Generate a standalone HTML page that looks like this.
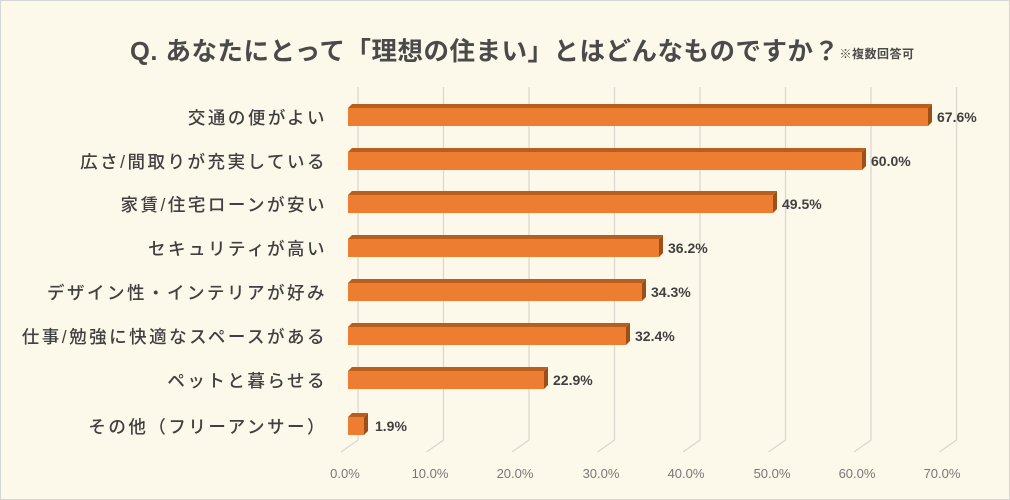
<!DOCTYPE html>
<html><head><meta charset="utf-8"><style>
body{margin:0;background:#fff}
svg{display:block}
text{font-family:"Liberation Sans","Noto Sans CJK JP",sans-serif}
</style></head><body>
<svg width="1010" height="500" viewBox="0 0 1010 500">
<rect x="0.5" y="0.5" width="1009" height="499" fill="#fdf9ea" stroke="#d6d6d6"/>
<text x="130" y="60" font-size="25.5" font-weight="bold" fill="#4a4a4a" letter-spacing="0.5">Q. あなたにとって「理想の住まい」とはどんなものですか？<tspan font-size="12" dy="-2" letter-spacing="0.5">※複数回答可</tspan></text>
<g stroke="#d9d7d0" stroke-width="1.3" fill="none">
<path d="M358 87V440L341 452"/><path d="M443.5 87V440L426.5 452"/><path d="M529 87V440L512 452"/><path d="M614.5 87V440L597.5 452"/><path d="M700 87V440L683 452"/><path d="M785.5 87V440L768.5 452"/><path d="M871 87V440L854 452"/><path d="M956.5 87V440L939.5 452"/>
</g>
<g font-size="13" fill="#777" text-anchor="middle">
<text x="345" y="478">0.0%</text><text x="430" y="478">10.0%</text><text x="515" y="478">20.0%</text><text x="601" y="478">30.0%</text><text x="686" y="478">40.0%</text><text x="772" y="478">50.0%</text><text x="857" y="478">60.0%</text><text x="942" y="478">70.0%</text>
</g>
<g font-size="17.5" fill="#404040" text-anchor="end" letter-spacing="2.5" font-weight="500">
<text x="327" y="124">交通の便がよい</text>
<text x="327" y="168">広さ/間取りが充実している</text>
<text x="327" y="211">家賃/住宅ローンが安い</text>
<text x="327" y="255">セキュリティが高い</text>
<text x="327" y="299">デザイン性・インテリアが好み</text>
<text x="327" y="343">仕事/勉強に快適なスペースがある</text>
<text x="327" y="387">ペットと暮らせる</text>
<text x="327" y="433">その他（フリーアンサー）</text>
</g>
<g>
<path d="M348 108l4-4h580l-4 4z" fill="#b85e1e"/><path d="M928 108l4-4v18l-4 4z" fill="#9e4f17"/><rect x="348" y="108" width="580" height="18" fill="#ec7d31"/>
<path d="M348 152l4-4h514l-4 4z" fill="#b85e1e"/><path d="M862 152l4-4v18l-4 4z" fill="#9e4f17"/><rect x="348" y="152" width="514" height="18" fill="#ec7d31"/>
<path d="M348 195l4-4h425l-4 4z" fill="#b85e1e"/><path d="M773 195l4-4v18l-4 4z" fill="#9e4f17"/><rect x="348" y="195" width="425" height="18" fill="#ec7d31"/>
<path d="M348 239l4-4h311l-4 4z" fill="#b85e1e"/><path d="M659 239l4-4v18l-4 4z" fill="#9e4f17"/><rect x="348" y="239" width="311" height="18" fill="#ec7d31"/>
<path d="M348 283l4-4h294l-4 4z" fill="#b85e1e"/><path d="M642 283l4-4v18l-4 4z" fill="#9e4f17"/><rect x="348" y="283" width="294" height="18" fill="#ec7d31"/>
<path d="M348 327l4-4h278l-4 4z" fill="#b85e1e"/><path d="M626 327l4-4v18l-4 4z" fill="#9e4f17"/><rect x="348" y="327" width="278" height="18" fill="#ec7d31"/>
<path d="M348 371l4-4h196l-4 4z" fill="#b85e1e"/><path d="M544 371l4-4v18l-4 4z" fill="#9e4f17"/><rect x="348" y="371" width="196" height="18" fill="#ec7d31"/>
<path d="M348 417l4-4h16l-4 4z" fill="#b85e1e"/><path d="M364 417l4-4v18l-4 4z" fill="#9e4f17"/><rect x="348" y="417" width="16" height="18" fill="#ec7d31"/>
</g>
<g font-size="14" font-weight="bold" fill="#404040">
<text x="937" y="122">67.6%</text>
<text x="871" y="166">60.0%</text>
<text x="782" y="209">49.5%</text>
<text x="668" y="253">36.2%</text>
<text x="651" y="297">34.3%</text>
<text x="635" y="341">32.4%</text>
<text x="553" y="385">22.9%</text>
<text x="375" y="431">1.9%</text>
</g>
</svg>
</body></html>
